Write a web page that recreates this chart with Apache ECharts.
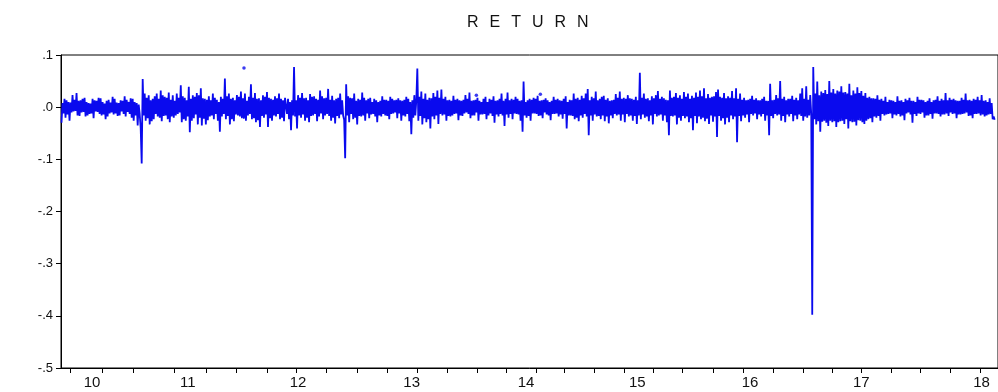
<!DOCTYPE html>
<html>
<head>
<meta charset="utf-8">
<title>RETURN</title>
<script src="https://cdn.jsdelivr.net/npm/echarts@6/dist/echarts.min.js"></script>
<style>
  html, body { margin: 0; padding: 0; background: #fff; }
  #wrap { position: relative; width: 998px; height: 392px; }
  #chart { width: 998px; height: 392px; }
  #title {
    position: absolute; left: 467px; top: 13px;
    font: 16px "Liberation Sans", Arial, Helvetica, sans-serif;
    letter-spacing: 11px; color: #111; white-space: nowrap;
  }
</style>
</head>
<body>
<div id="wrap">
  <div id="chart"></div>
  <div id="title">RETURN</div>
</div>
<script>
// Daily return series, sampled evenly through each calendar year.
// Values are in thousandths (12 = 0.012).
const years = [2010, 2011, 2012, 2013, 2014, 2015, 2016, 2017, 2018];
const OBS_PER_YEAR = 112;

const ret2010 = [
  -30, 8, -12, 16, -20, 13, -14, 10, -26, 9, -10, 23, -8, 14, -7, 27, -16, 12, -17, 13,
  -10, 16, -9, 18, -18, 10, -16, 8, -13, 7, -12, 16, -21, 13, -8, 12, -9, 18, -13, 17,
  -16, 10, -14, 7, -23, 12, -18, 14, -12, 9, -10, 20, -14, 16, -12, 9, -17, 8, -16, 13,
  -8, 12, -13, 21, -18, 14, -9, 10, -13, 17, -20, 16, -26, 10, -16, 8, -35, 5, -13, -40,
  -108, 54, -16, 26, -26, 18, -21, 23, -33, 13, -27, 16, -23, 21, -13, 26, -18, 16, -20, 32,
  -27, 23, -17, 20, -16, 18, -23, 28, -29, 14, -18, 23];
const ret2011 = [
  -20, 12, -16, 26, -13, 18, -10, 42, -29, 21, -23, 18, -26, 13, -18, 39, -48, 16, -26, 23,
  -21, 20, -14, 27, -33, 23, -20, 36, -35, 17, -22, 16, -33, 14, -25, 21, -18, 13, -16, 26,
  -23, 18, -13, 14, -26, 10, -47, 20, -18, 16, -13, 55, -23, 21, -17, 26, -33, 16, -23, 18,
  -27, 13, -14, 23, -16, 20, -18, 30, -21, 17, -22, 26, -26, 12, -16, 20, -13, 44, -23, 18,
  -21, 27, -29, 16, -25, 17, -38, 13, -17, 23, -20, 20, -14, 29, -38, 18, -21, 16, -26, 14,
  -16, 21, -18, 17, -13, 26, -23, 16, -20, 13, -27, 18];
const ret2012 = [
  20, -13, 16, -23, 10, -44, 13, -16, 77, -18, 13, -41, 23, -16, 18, -20, 27, -14, 17, -26,
  18, -20, 13, -29, 25, -17, 20, -16, 21, -13, 16, -27, 14, -18, 32, -12, 21, -23, 17, -16,
  18, -13, 35, -17, 14, -26, 22, -20, 13, -31, 16, -17, 18, -21, 26, -14, 13, -16, -24, -98,
  44, -16, 21, -29, 18, -13, 17, -23, 26, -20, 12, -33, 16, -17, 14, -18, 28, -16, 18, -26,
  13, -12, 16, -21, 18, -14, 10, -13, 16, -18, 13, -29, 10, -16, 12, -18, 21, -13, 14, -16,
  14, -17, 12, -23, 20, -13, 16, -12, 13, -10, 14, -21];
const ret2013 = [
  17, -12, 13, -26, 12, -16, 14, -18, 20, -13, 16, -27, 10, -52, 13, -20, 23, -16, 13, 74,
  -26, 20, -17, 30, -33, 16, -21, 26, -29, 14, -23, 18, -41, 17, -18, 27, -23, 20, -16, 32,
  -32, 18, -13, 34, -16, 16, -14, 20, -26, 13, -17, 14, -18, 12, -16, 22, -13, 14, -12, 16,
  -25, 13, -16, 12, -17, 14, -12, 23, -10, 16, -13, 28, -21, 12, -16, 13, -16, 14, -10, 18,
  -26, 12, -14, 10, -14, 16, -13, 20, -23, 10, -16, 16, -12, 14, -17, 21, -30, 12, -14, 13,
  -18, 16, -13, 26, -16, 12, -36, 16, -14, 28, -20, 13];
const ret2014 = [
  -13, 16, -23, 14, -12, 20, -13, 16, -14, 12, -26, 13, -47, 49, -16, 10, -20, 13, -17, 16,
  -26, 14, -12, 18, -12, 16, -13, 22, -17, 12, -16, 13, -21, 14, -10, 17, -14, 13, -16, 10,
  -25, 12, -13, 20, -13, 14, -12, 16, -18, 13, -14, 12, -22, 16, -13, 21, -41, 10, -16, 14,
  -16, 13, -17, 26, -23, 16, -20, 18, -27, 14, -16, 22, -20, 17, -13, 26, -18, 35, -54, 13,
  -16, 20, -26, 17, -14, 30, -18, 13, -17, 16, -23, 20, -16, 22, -27, 14, -18, 17, -31, 12,
  -16, 13, -21, 14, -13, 25, -16, 18, -14, 30, -26, 16];
const ret2015 = [
  -14, 18, -29, 16, -13, 23, -18, 17, -16, 16, -26, 14, -17, 20, -32, 13, -16, 66, -23, 18,
  -14, 26, -20, 16, -18, 17, -27, 13, -16, 21, -33, 17, -13, 23, -18, 31, -16, 16, -14, 20,
  -26, 17, -16, 14, -29, 13, -54, 32, -17, 18, -18, 20, -16, 27, -33, 18, -20, 23, -26, 16,
  -17, 29, -21, 20, -18, 26, -29, 16, -21, 22, -44, 18, -17, 28, -31, 20, -18, 32, -23, 21,
  -20, 36, -27, 17, -22, 25, -32, 18, -16, 20, -28, 21, -18, 29, -57, 34, -17, 20, -26, 18,
  -21, 27, -33, 17, -20, 21, -29, 18, -16, 31, -23, 17];
const ret2016 = [
  -18, 36, -67, 16, -17, 26, -27, 14, -16, 18, -20, 13, -14, 14, -29, 16, -13, 22, -16, 14,
  -12, 17, -23, 13, -14, 13, -18, 16, -13, 20, -26, 12, -16, 12, -54, 45, -17, 13, -21, 14,
  -13, 23, -16, 17, -14, 50, -26, 16, -17, 20, -29, 13, -14, 16, -18, 16, -13, 22, -27, 14,
  -16, 18, -23, 13, -14, 26, -17, 36, -26, 16, -18, 40, -20, 14, -16, 23, -13, -398, 77, -23,
  26, -33, 49, -27, 23, -47, 30, -28, 27, -26, 33, -30, 25, -36, 50, -26, 28, -29, 35, -27,
  26, -38, 32, -29, 30, -27, 40, -26, 28, -32, 29, -23];
const ret2017 = [
  26, -41, 45, -27, 23, -29, 32, -28, 26, -35, 38, -25, 27, -26, 31, -29, 22, -32, 27, -26,
  18, -23, 20, -21, 17, -29, 17, -18, 16, -20, 23, -17, 14, -26, 16, -13, 12, -16, 20, -14,
  10, -13, 14, -12, 13, -21, 12, -14, 10, -16, 21, -13, 12, -18, 13, -16, 10, -25, 16, -12,
  13, -10, 18, -14, 12, -30, 12, -13, 10, -17, 20, -12, 14, -13, 14, -10, 13, -20, 10, -16,
  12, -16, 17, -13, 10, -22, 13, -12, 14, -12, 21, -13, 12, -18, 16, -14, 13, -14, 27, -12,
  13, -17, 18, -10, 14, -13, 16, -12, 13, -21, 12, -14];
const ret2018 = [
  12, -14, 18, -13, 14, -12, 26, -10, 13, -17, 14, -16, 12, -21, 16, -13, 14, -13,
  20, -12, 13, -16, 23, -14, 12, -18, 13, -16, 10, -14, 17, -13, 8, -23, -18, -24];

// Lone observations whose neighbours are missing (drawn as dots).
const isolatedDates = [2011.63, 2013.70, 2014.27];
const isolatedValues = [75, 23, 25];

// Axis decorations
const yearLabelAt = [2010.276, 2011.129, 2012.111, 2013.124, 2014.142, 2015.133, 2016.138, 2017.129, 2018.2];
const tickAt = [2010.08, 2010.364, 2010.64, 2011.013, 2011.298, 2011.564, 2011.84, 2012.098,
  2012.364, 2012.64, 2012.907, 2013.173, 2013.44, 2013.707, 2013.964, 2014.231, 2014.48,
  2014.747, 2015.013, 2015.28, 2015.538, 2015.813, 2016.08, 2016.347, 2016.613, 2016.871,
  2017.129, 2017.396, 2017.653, 2017.92, 2018.187];

const returnsByYear = [ret2010, ret2011, ret2012, ret2013, ret2014, ret2015, ret2016, ret2017, ret2018];

const lineData = [];
years.forEach((y, k) => {
  returnsByYear[k].forEach((v, i) => {
    lineData.push([y + (i + 0.5) / OBS_PER_YEAR, v / 1000]);
  });
});
const dotData = isolatedDates.map((d, i) => [d, isolatedValues[i] / 1000]);

const chart = echarts.init(document.getElementById('chart'), null, { renderer: 'canvas' });
const FONT = '"Liberation Sans", Arial, Helvetica, sans-serif';
const BLUE = '#0a0aee';

chart.setOption({
  animation: false,
  backgroundColor: '#ffffff',
  grid: {
    left: 61, right: -2, top: 55, bottom: 24,
    show: true, borderColor: '#000', borderWidth: 1
  },
  xAxis: {
    type: 'value',
    min: 2010, max: 2010 + 939 / 112.5,
    splitLine: { show: false },
    axisLine: { show: true, onZero: false, lineStyle: { color: '#000', width: 1 } },
    axisTick: {
      show: true, inside: false, length: 5,
      customValues: tickAt,
      lineStyle: { color: '#000', width: 1 }
    },
    axisLabel: {
      show: true,
      customValues: yearLabelAt,
      margin: 7,
      color: '#111',
      fontFamily: FONT,
      fontSize: 15,
      formatter: v => String(Math.floor(v) % 100).padStart(2, '0')
    }
  },
  yAxis: {
    type: 'value',
    min: -0.5, max: 0.1, interval: 0.1,
    splitLine: { show: false },
    axisLine: { show: true, onZero: false, lineStyle: { color: '#000', width: 1 } },
    axisTick: { show: true, inside: false, length: 5, lineStyle: { color: '#000', width: 1 } },
    axisLabel: {
      color: '#111',
      fontFamily: FONT,
      fontSize: 13,
      margin: 8,
      formatter: v => v.toFixed(1).replace('0.', '.')
    }
  },
  series: [{
    name: 'RETURN',
    type: 'line',
    data: lineData,
    showSymbol: false,
    symbol: 'none',
    sampling: null,
    lineStyle: { color: BLUE, width: 1.8, join: 'bevel' },
    itemStyle: { color: BLUE },
    emphasis: { disabled: true },
    silent: true
  }, {
    type: 'scatter',
    data: dotData,
    symbolSize: 3.5,
    itemStyle: { color: BLUE },
    silent: true
  }]
});
</script>
</body>
</html>
